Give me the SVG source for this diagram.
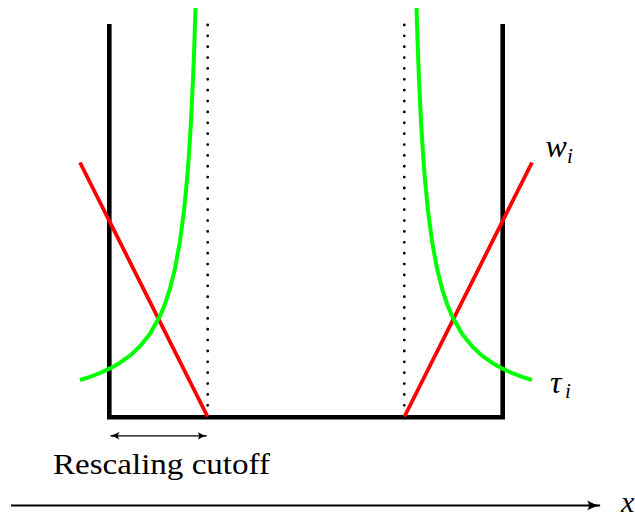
<svg xmlns="http://www.w3.org/2000/svg" width="635" height="520" viewBox="0 0 635 520">
<style>
.wall{fill:none;stroke:#000;stroke-width:4.6;stroke-linejoin:miter}
.dot{fill:none;stroke:#000;stroke-width:2.8;stroke-linecap:round;stroke-dasharray:0 10.866}
.red{fill:none;stroke:#ff0000;stroke-width:3.8}
.green{fill:none;stroke:#00ff00;stroke-width:4;stroke-linejoin:round}
.arr{fill:none;stroke:#000}
.lbl{font-family:"Liberation Serif","DejaVu Serif",serif;fill:#000}
.it{font-style:italic}
</style>
<defs>
<marker id="ah" viewBox="0 0 10 10" refX="9" refY="5" markerWidth="10" markerHeight="10" markerUnits="userSpaceOnUse" orient="auto-start-reverse">
<path d="M0,1 Q5,4.4 10,5 Q5,5.6 0,9 Q3,5 0,1 Z" fill="#000"/>
</marker>
<marker id="ah2" viewBox="0 0 14 12" refX="13" refY="6" markerWidth="14" markerHeight="12" markerUnits="userSpaceOnUse" orient="auto">
<path d="M0,1 Q7,5.2 14,6 Q7,6.8 0,11 Q4,6 0,1 Z" fill="#000"/>
</marker>
</defs>
<g id="box">
<path class="wall" d="M109.3,24 V417.3 H502.7 V24"/>
</g>
<g id="cutoffs">
<line class="dot" x1="207.7" y1="25" x2="207.7" y2="414"/>
<line class="dot" x1="404.3" y1="25" x2="404.3" y2="414"/>
</g>
<g id="w-curve">
<line class="red" x1="80" y1="162.5" x2="207.5" y2="416.5"/>
<line class="red" x1="404.5" y1="416.5" x2="532" y2="162.5"/>
</g>
<g id="tau-curve">
<polyline class="green" points="80,380 90,376.8 100,373 110,368.4 120,362.7 130,355.6 140,346.3 150,333.8 160,316 165,303.9 170,288.6 175,268.6 180,241.1 184,210.7 187,179.9 189,153.8 191,121.2 193,79.4 194,53.8 195,23.9 195.47,8"/>
<polyline class="green" points="532,380 522,376.8 512,373 502,368.4 492,362.7 482,355.6 472,346.3 462,333.8 452,316 447,303.9 442,288.6 437,268.6 432,241.1 428,210.7 425,179.9 423,153.8 421,121.2 419,79.4 418,53.8 417,23.9 416.53,8"/>
</g>
<g id="connectors">
<line class="arr" stroke-width="1.3" x1="110.5" y1="435.8" x2="206.5" y2="435.8" marker-start="url(#ah)" marker-end="url(#ah)"/>
<line class="arr" stroke-width="2.2" x1="11" y1="505.5" x2="600" y2="505.5" marker-end="url(#ah2)"/>
</g>
<g id="labels">
<text class="lbl it" x="545.5" y="157" font-size="32">w</text>
<text class="lbl it" x="567" y="163" font-size="21">i</text>
<text class="lbl it" x="550" y="393" font-size="32">τ</text>
<text class="lbl it" x="565" y="398" font-size="21">i</text>
<text class="lbl it" x="621" y="512" font-size="30">x</text>
<text class="lbl" x="53" y="474" font-size="29" textLength="217" lengthAdjust="spacingAndGlyphs">Rescaling cutoff</text>
</g>
</svg>
